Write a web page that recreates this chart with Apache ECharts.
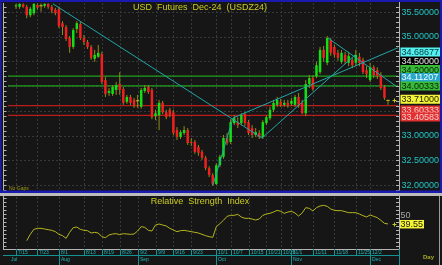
<!DOCTYPE html>
<html>
<head>
<meta charset="utf-8">
<script src="https://cdn.jsdelivr.net/npm/echarts@6/dist/echarts.min.js"></script>
<style>
html,body{margin:0;padding:0;background:#161616;overflow:hidden;}
#chart{width:442px;height:265px;}
</style>
</head>
<body>
<div id="chart"></div>
<script>
// ---------------- data ----------------
const openPrices = [35.61,35.60,35.65,35.60,35.43,35.47,35.64,35.62,35.62,35.66,35.60,35.54,35.56,35.27,35.19,34.97,34.79,35.15,35.25,34.97,34.89,34.79,34.55,34.59,34.65,34.12,33.86,33.84,33.92,34.04,33.94,33.68,33.78,33.72,33.70,33.58,33.90,33.98,33.92,33.39,33.41,33.66,33.47,33.52,33.47,33.11,32.97,33.05,33.11,32.87,32.87,32.77,32.67,32.55,32.34,32.20,32.02,32.40,32.57,32.95,32.87,33.25,33.27,33.25,33.43,33.27,33.15,33.01,33.05,32.97,33.25,33.35,33.52,33.62,33.68,33.62,33.66,33.64,33.62,33.78,33.66,33.45,34.04,34.16,34.20,34.28,34.73,34.47,34.93,34.79,34.67,34.49,34.63,34.47,34.53,34.47,34.59,34.53,34.32,34.12,34.38,34.32,34.22,33.98,33.71];
const highPrices = [35.66,35.67,35.67,35.64,35.60,35.67,35.67,35.67,35.67,35.67,35.64,35.58,35.60,35.31,35.23,35.01,35.17,35.31,35.29,35.03,34.93,34.83,34.73,34.83,34.69,34.18,33.96,34.02,34.08,34.28,33.98,33.82,33.82,33.76,33.82,33.96,34.02,34.02,33.96,33.52,33.72,33.70,33.52,33.56,33.52,33.17,33.11,33.19,33.15,32.95,32.91,32.81,32.71,32.59,32.38,32.24,32.44,32.61,33.01,33.05,33.33,33.41,33.37,33.45,33.47,33.31,33.21,33.15,33.11,33.31,33.41,33.58,33.72,33.78,33.74,33.72,33.72,33.76,33.82,33.86,33.72,34.12,34.22,34.22,34.49,34.79,34.81,35.01,34.97,34.83,34.73,34.73,34.69,34.69,34.57,34.73,34.67,34.57,34.40,34.47,34.42,34.38,34.28,34.02,33.72];
const lowPrices = [35.56,35.56,35.58,35.37,35.39,35.43,35.54,35.50,35.58,35.56,35.47,35.43,35.17,35.03,34.91,34.67,34.75,35.07,34.93,34.83,34.75,34.53,34.49,34.57,34.04,33.78,33.80,33.80,33.82,33.82,33.62,33.64,33.62,33.56,33.56,33.54,33.86,33.84,33.33,33.31,33.11,33.43,33.33,33.37,33.01,32.91,32.93,33.01,32.81,32.79,32.63,32.59,32.51,32.30,32.16,31.98,32.00,32.36,32.53,32.81,32.83,33.21,33.15,33.21,33.19,33.01,32.95,32.97,32.93,32.93,33.21,33.31,33.47,33.58,33.58,33.58,33.56,33.60,33.58,33.56,33.43,33.39,33.96,33.90,34.16,34.24,34.49,34.42,34.61,34.57,34.51,34.45,34.45,34.40,34.36,34.40,34.40,34.24,34.16,34.08,34.16,34.14,33.92,33.72,33.62];
const closePrices = [35.63,35.66,35.60,35.43,35.56,35.66,35.58,35.62,35.66,35.60,35.52,35.47,35.21,35.19,34.95,34.79,35.13,35.27,34.97,34.89,34.79,34.57,34.63,34.67,34.08,33.84,33.90,33.98,34.02,33.92,33.66,33.78,33.66,33.62,33.70,33.92,33.96,33.88,33.37,33.45,33.66,33.47,33.37,33.41,33.05,32.97,33.07,33.11,32.85,32.85,32.67,32.65,32.55,32.34,32.20,32.02,32.40,32.57,32.95,32.85,33.27,33.35,33.21,33.41,33.25,33.05,33.01,33.07,32.97,33.27,33.37,33.52,33.66,33.72,33.62,33.66,33.62,33.70,33.78,33.62,33.45,34.04,34.16,33.94,34.42,34.73,34.57,34.97,34.67,34.63,34.57,34.67,34.49,34.61,34.42,34.63,34.47,34.28,34.24,34.38,34.22,34.20,33.96,33.76,33.71];
const rsiValues = [null,null,null,14.5,24,31.5,33,33,32,31,30,28,24,22,18,27,34,35,31.5,30,29.5,26,27,26,20.5,19,23,24.5,25,23.5,25,24.5,24,24.5,29,35.5,34.5,30,29,38,39.5,38,36.5,33,30.5,28,29.5,30,29,28,27,26,24,22,20.5,19.5,35.5,40,45,51,52.5,52.5,54,50,48,48,47,45.5,47,52.5,54.5,55.5,57.5,60,58.5,55.5,57.5,58.5,56,51.5,56,64,63,59,64,66.5,67.5,66,62,60,59.5,59.5,58,56.5,56.5,56.5,54.5,52,50,53,51,49,45,40.5,39.55];

const dateTickLabels = ['7/15','7/23','8/1','8/13','8/19','8/26','9/2','9/9','9/16','9/23','10/1','10/7','10/15','10/21','10/28','11/1','11/11','11/18','11/25','12/2'];
const dateTickIndex  = [0,6,12,19,24,29,34,39,44,49,56,60,65,70,74,77,83,89,95,99];
const monthLabels = ['Jul','Aug','Sep','Oct','Nov','Dec'];
const monthStartIndex = [-2,12,34,56,77,99];

const priceGridValues = [32.0,32.5,33.0,33.5,34.0,34.5,35.0,35.5];
const priceTickValues = [35.5,35.0,34.5,33.0,32.5,32.0];
const greenLevels = [34.20000,34.00333];
const redLevels = [33.60333,33.40583];
const markerValues = [34.68677,34.20000,34.11207,34.00333,33.71000,33.60333,33.40583];
const trendLines = [
  [[10.35,35.66],[68.77,32.949]],
  [[55.07,32.0],[60.66,33.354]],
  [[60.66,33.354],[106.79,34.773]],
  [[68.77,32.949],[94.77,34.626]],
  [[87.2,34.97],[106.2,34.0]]
];
const lastPrice = 33.71;
const rsiRefLevel = 50;
const lastRsi = 39.55;

// ---------------- layout / style ----------------
const X_MIN=-2.236, X_MAX=106.79, P_MIN=31.879, P_MAX=35.677, R_MIN=2, R_MAX=80;
const FONT='"Liberation Sans", Arial, sans-serif';
const C={bg:'#161616',grid:'#383838',up:'#12e012',down:'#f02020',wick:'#8e8e14',doji:'#c8c820',
  trend:'#22a6a6',green:'#1ea01e',red:'#b81c1c',axisText:'#22c4c4',title:'#cccc22',rsi:'#b4b41e',
  blue:'#1a1aae',sep:'#bcbcbc',comb:'#b4b4b4',teal:'#139494',dateText:'#28b4b4'};
const TICK_STYLES={'34.5':{fg:'#e6e6e6',bg:'#000000'}};
const MARKER_STYLES=[
  {bg:'#52f0f0',fg:'#083838',dy:0},
  {bg:'#38bc38',fg:'#0c200c',dy:-6.5},
  {bg:'#2aa6c8',fg:'#e8ffff',dy:-3},
  {bg:'#38bc38',fg:'#0c200c',dy:0.2},
  {bg:'#f4f43a',fg:'#202000',dy:-1},
  {bg:'#e23030',fg:'#f4caca',dy:4.4},
  {bg:'#e23030',fg:'#f4caca',dy:1.6}
];

const chart=echarts.init(document.getElementById('chart'),null,{renderer:'canvas',width:442,height:265});

function hLine(x1,x2,y,stroke,dash){return {type:'line',shape:{x1:x1,y1:y,x2:x2,y2:y},style:{stroke:stroke,lineWidth:1,lineDash:dash||null}};}
function vLine(x,y1,y2,stroke,dash){return {type:'line',shape:{x1:x,y1:y1,x2:x,y2:y2},style:{stroke:stroke,lineWidth:1,lineDash:dash||null}};}
function txt(text,x,y,fill,font,align){return {type:'text',style:{text:text,x:x,y:y,fill:fill,font:font,align:align||'left',verticalAlign:'middle'}};}

const series=[];

// horizontal price gridlines
series.push({type:'custom',xAxisIndex:0,yAxisIndex:0,z:1,silent:true,
  data:priceGridValues.map(v=>[0,v]),
  renderItem(params,api){const cs=params.coordSys;const y=Math.round(api.coord([0,api.value(1)])[1])+0.5;
    return hLine(cs.x,cs.x+cs.width,y,C.grid,[2,2]);}});
// vertical gridlines (main + rsi)
[[0,P_MIN],[1,R_MIN]].forEach(([g,yv])=>{
  series.push({type:'custom',xAxisIndex:g,yAxisIndex:g,z:1,silent:true,
    data:dateTickIndex.map(i=>[i,yv]),
    renderItem(params,api){const cs=params.coordSys;const x=Math.round(api.coord([api.value(0),api.value(1)])[0])+0.5;
      return vLine(x,cs.y,cs.y+cs.height,C.grid,[2,2]);}});
});
// level lines
greenLevels.forEach(v=>series.push({type:'line',xAxisIndex:0,yAxisIndex:0,z:2,silent:true,symbol:'none',
  data:[[X_MIN,v],[X_MAX,v]],lineStyle:{color:C.green,width:1.3}}));
redLevels.forEach(v=>series.push({type:'line',xAxisIndex:0,yAxisIndex:0,z:2,silent:true,symbol:'none',
  data:[[X_MIN,v],[X_MAX,v]],lineStyle:{color:C.red,width:1.3}}));
// candles
series.push({type:'custom',xAxisIndex:0,yAxisIndex:0,z:5,silent:true,
  data:openPrices.map((o,i)=>[i,o,closePrices[i],lowPrices[i],highPrices[i]]),
  renderItem(params,api){
    const i=api.value(0),o=api.value(1),c=api.value(2),l=api.value(3),h=api.value(4);
    const pO=api.coord([i,o]),pC=api.coord([i,c]),pL=api.coord([i,l]),pH=api.coord([i,h]);
    const x=pO[0];
    const ch=[vLine(x,pH[1],pL[1],C.wick)];
    if(o===c){ch.push(hLine(x-1.7,x+1.7,pO[1],C.doji));}
    else ch.push({type:'rect',shape:{x:x-1.25,y:Math.min(pO[1],pC[1]),width:2.5,height:Math.max(1,Math.abs(pO[1]-pC[1]))},
      style:{fill:c>o?C.up:C.down}});
    return {type:'group',children:ch};
  }});
// trend lines
trendLines.forEach(seg=>series.push({type:'line',xAxisIndex:0,yAxisIndex:0,z:8,silent:true,symbol:'none',
  data:seg,lineStyle:{color:C.trend,width:1}}));
// price tick labels (right)
series.push({type:'custom',xAxisIndex:0,yAxisIndex:0,z:20,silent:true,
  data:priceTickValues.map(v=>[X_MAX,v]),
  renderItem(params,api){const p=api.coord([api.value(0),api.value(1)]);const v=api.value(1);
    const st=TICK_STYLES[String(v)];const t=v.toFixed(5);
    if(st) return {type:'group',children:[{type:'rect',shape:{x:p[0]+2.5,y:p[1]-4.5,width:40,height:9},style:{fill:st.bg}},
      txt(t,p[0]+3.5,p[1]+0.5,st.fg,'9px '+FONT)]};
    return txt(t,p[0]+3.5,p[1]+0.5,C.axisText,'9px '+FONT);}});
// marker boxes (right)
series.push({type:'custom',xAxisIndex:0,yAxisIndex:0,z:21,silent:true,
  data:markerValues.map((v,k)=>[X_MAX,v,k]),
  renderItem(params,api){const k=api.value(2);const st=MARKER_STYLES[k];
    const p=api.coord([api.value(0),api.value(1)]);const y=p[1]+st.dy;
    return {type:'group',children:[{type:'rect',shape:{x:p[0]+2.5,y:y-4.5,width:40,height:9},style:{fill:st.bg}},
      txt(api.value(1).toFixed(5),p[0]+3.5,y+0.5,st.fg,'9px '+FONT)]};}});
// last price plus marks
[[0,lastPrice],[1,lastRsi]].forEach(([g,v])=>series.push({type:'custom',xAxisIndex:g,yAxisIndex:g,z:22,silent:true,
  data:[[X_MAX,v]],
  renderItem(params,api){const p=api.coord([api.value(0),api.value(1)]);const x=p[0]-3.5,y=Math.round(p[1])+0.5;
    return {type:'group',children:[hLine(x-2,x+2,y,C.doji),vLine(x,y-2,y+2,C.doji)]};}}));
// combs main
series.push({type:'custom',xAxisIndex:0,yAxisIndex:0,z:20,silent:true,data:[[0,P_MIN]],
  renderItem(params,api){const cs=params.coordSys;const ch=[];
    for(let k=319;k<=356;k++){const y=Math.round(api.coord([0,k/10])[1])+0.5;
      if(y<cs.y||y>cs.y+cs.height) continue;
      ch.push(hLine(3,6.5,y,C.comb));ch.push(hLine(396,399.5,y,C.comb));}
    ch.push(vLine(3.5,cs.y,cs.y+cs.height,C.comb));ch.push(vLine(399.5,cs.y-1,cs.y+cs.height,C.comb));
    return {type:'group',children:ch};}});
// RSI line
series.push({type:'line',xAxisIndex:1,yAxisIndex:1,z:5,silent:true,symbol:'none',
  data:rsiValues.map((v,i)=>[i,v]).filter(d=>d[1]!=null),lineStyle:{color:C.rsi,width:1}});
// RSI labels + comb
series.push({type:'custom',xAxisIndex:1,yAxisIndex:1,z:20,silent:true,data:[[X_MAX,rsiRefLevel,lastRsi]],
  renderItem(params,api){const cs=params.coordSys;const ch=[];
    for(let k=1;k<=13;k++){const y=Math.round(api.coord([0,k*6])[1])+0.5;
      if(y<cs.y||y>cs.y+cs.height) continue;
      ch.push(hLine(3,6.5,y,C.comb));ch.push(hLine(396,399.5,y,C.comb));}
    ch.push(vLine(3.5,cs.y-1,cs.y+cs.height,C.comb));ch.push(vLine(399.5,cs.y-1,cs.y+cs.height,C.comb));
    ch.push(hLine(3,399.5,cs.y+cs.height+0.5,C.comb));
    const p50=api.coord([api.value(0),api.value(1)]);const pl=api.coord([api.value(0),api.value(2)]);
    ch.push(txt(String(api.value(1)),p50[0]+2.5,p50[1]-1,'#a8a8a8','9px '+FONT));
    ch.push({type:'rect',shape:{x:pl[0]+2,y:pl[1]-4,width:24,height:8.5},style:{fill:'#f4f43a'}});
    ch.push(txt(api.value(2).toFixed(2),pl[0]+2.5,pl[1]+0.5,'#202000','9px '+FONT));
    return {type:'group',children:ch};}});
// date axis
series.push({type:'custom',xAxisIndex:2,yAxisIndex:2,z:20,silent:true,
  data:dateTickIndex.map((i,k)=>[i,0.5,k]),
  renderItem(params,api){const cs=params.coordSys;const x=Math.round(api.coord([api.value(0),0.5])[0])+0.5;
    return {type:'group',children:[vLine(x,cs.y,cs.y+6.5,C.teal),
      txt(dateTickLabels[api.value(2)],x+1.5,cs.y+3.4,C.dateText,'5px '+FONT)]};}});
series.push({type:'custom',xAxisIndex:2,yAxisIndex:2,z:21,silent:true,
  data:monthStartIndex.map((i,k)=>[i,0.5,k]),
  renderItem(params,api){const cs=params.coordSys;const i=api.value(0);
    const x=Math.round(api.coord([i,0.5])[0])+0.5;const ch=[];
    if(i>=0) ch.push(vLine(x,cs.y,cs.y+cs.height,C.teal));
    ch.push(txt(monthLabels[api.value(2)],x+1.5,cs.y+10.5,C.dateText,'5px '+FONT));
    return {type:'group',children:ch};}});

const xAx=(g)=>({type:'value',gridIndex:g,min:X_MIN,max:X_MAX,show:false});
const option={
  backgroundColor:C.bg,animation:false,
  grid:[{left:8,top:3,width:390,height:188},{left:8,top:197,width:390,height:52},{left:8,top:249,width:390,height:16}],
  xAxis:[xAx(0),xAx(1),xAx(2)],
  yAxis:[{type:'value',gridIndex:0,min:P_MIN,max:P_MAX,show:false,scale:true},
         {type:'value',gridIndex:1,min:R_MIN,max:R_MAX,show:false},
         {type:'value',gridIndex:2,min:0,max:1,show:false}],
  series:series,
  graphic:[
    {type:'rect',z:100,shape:{x:0,y:0,width:442,height:2},style:{fill:C.blue}},
    {type:'rect',z:100,shape:{x:0,y:0,width:1.5,height:193},style:{fill:C.blue}},
    {type:'rect',z:100,shape:{x:440,y:0,width:2,height:193},style:{fill:C.blue}},
    {type:'rect',z:100,shape:{x:0,y:190.5,width:442,height:2.5},style:{fill:C.blue}},
    {type:'rect',z:100,shape:{x:0,y:193,width:442,height:3},style:{fill:C.sep}},
    {type:'line',z:100,shape:{x1:3,y1:255.5,x2:399.5,y2:255.5},style:{stroke:C.teal,lineWidth:1}},
    {type:'line',z:100,shape:{x1:399.5,y1:249,x2:399.5,y2:265},style:{stroke:C.teal,lineWidth:1}},
    {type:'line',z:100,shape:{x1:439.5,y1:196,x2:439.5,y2:265},style:{stroke:'#9a9a9a',lineWidth:1}},
    {type:'text',z:100,style:{text:'USD  Futures  Dec-24  (USDZ24)',x:200,y:8,align:'center',verticalAlign:'middle',fill:C.title,font:'9px '+FONT}},
    {type:'text',z:100,style:{text:'Relative  Strength  Index',x:200,y:202,align:'center',verticalAlign:'middle',fill:C.title,font:'9px '+FONT}},
    {type:'text',z:100,style:{text:'No Gaps',x:9,y:189,align:'left',verticalAlign:'middle',fill:'#9a9a14',font:'5px '+FONT}},
    {type:'text',z:100,style:{text:'Day',x:423,y:257,align:'left',verticalAlign:'middle',fill:'#a8a820',font:'bold 6px '+FONT}}
  ]
};
chart.setOption(option);
</script>
</body>
</html>
